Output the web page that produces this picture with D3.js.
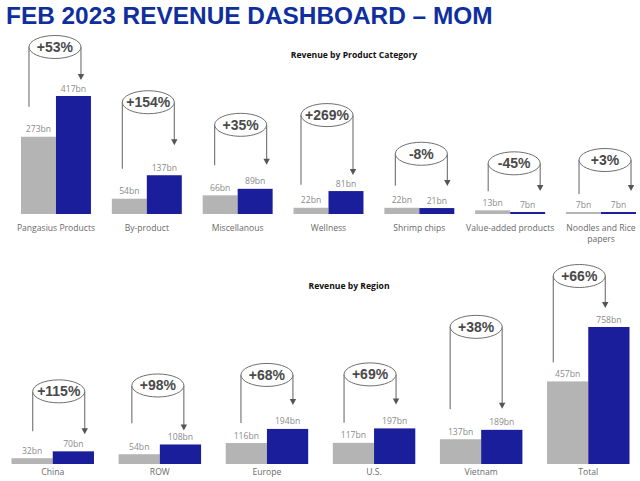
<!DOCTYPE html>
<html>
<head>
<meta charset="utf-8">
<script src="https://cdn.jsdelivr.net/npm/d3@7"></script>
<style>
  html, body { margin: 0; padding: 0; background: #ffffff; }
  svg { display: block; }
</style>
</head>
<body>
<svg id="chart" width="640" height="481"></svg>
<script>
// ---------------- DATA ----------------
const productCategories = ["Pangasius Products", "By-product", "Miscellanous", "Wellness", "Shrimp chips", "Value-added products", "Noodles and Rice papers"];
const productJan = [273, 54, 66, 22, 22, 13, 7];
const productFeb = [417, 137, 89, 81, 21, 7, 7];
const productChange = ["+53%", "+154%", "+35%", "+269%", "-8%", "-45%", "+3%"];

const regionCategories = ["China", "ROW", "Europe", "U.S.", "Vietnam", "Total"];
const regionJan = [32, 54, 116, 117, 137, 457];
const regionFeb = [70, 108, 194, 197, 189, 758];
const regionChange = ["+115%", "+98%", "+68%", "+69%", "+38%", "+66%"];

const seriesKeys = ["jan", "feb"];

// ---------------- LAYOUT / STYLE ----------------
const colors = { jan: "#b4b4b4", feb: "#1a1e9a" };
const labelFont = "'Open Sans', 'Noto Sans', sans-serif";

const productLayout = {
  xRange: [21, 636], baseline: 214, topPx: 96,
  title: "Revenue by Product Category", titleX: 354, titleY: 58,
  catLabelY: 231,
  calloutDx: [-1, 1.5, 3, -1.5, 2, 4, 4],
  calloutDy: [49, 73, 64, 76, 54, 47, 52],
  leftGap: [22, 22, 22, 15, 14, 11, 10],
  arrowGap: [8, 22, 16, 8, 14, 13, 13]
};
const regionLayout = {
  xRange: [11.5, 629.5], baseline: 464, topPx: 327,
  title: "Revenue by Region", titleX: 349, titleY: 289,
  catLabelY: 475,
  calloutDx: [6, -2, 0, -4, -5, -9],
  calloutDy: [60, 59, 54, 54, 103, 51],
  leftGap: [19, 23, 12, 12, 22, 11],
  arrowGap: [9, 6, 16, 16, 13, 11]
};

const svg = d3.select("#chart");

// Title
svg.append("text")
  .attr("x", 6).attr("y", 24)
  .attr("font-family", "'Liberation Sans', Arial, sans-serif")
  .attr("font-weight", "bold")
  .attr("font-size", 24.4)
  .attr("fill", "#0f2f9f")
  .text("FEB 2023 REVENUE DASHBOARD \u2013 MOM");

function drawPanel(cats, jan, feb, change, L) {
  const rows = cats.map((c, i) => ({ cat: c, jan: jan[i], feb: feb[i], change: change[i], i }));
  const x0 = d3.scaleBand().domain(cats).range(L.xRange).paddingInner(0.23).paddingOuter(0);
  const x1 = d3.scaleBand().domain(seriesKeys).range([0, x0.bandwidth()]).padding(0);
  const y = d3.scaleLinear().domain([0, d3.max(feb.concat(jan))]).range([L.baseline, L.topPx]);

  const g = svg.append("g");

  // Section title
  g.append("text")
    .attr("x", L.titleX).attr("y", L.titleY)
    .attr("text-anchor", "middle")
    .attr("font-family", labelFont)
    .attr("font-weight", "bold")
    .attr("font-size", 8.6)
    .attr("fill", "#111")
    .text(L.title);

  const groups = g.selectAll("g.grp").data(rows).join("g")
    .attr("class", "grp")
    .attr("transform", d => `translate(${x0(d.cat)},0)`);

  // Bars
  groups.selectAll("rect").data(d => seriesKeys.map(k => ({ k, v: d[k] }))).join("rect")
    .attr("x", d => x1(d.k))
    .attr("width", x1.bandwidth())
    .attr("y", d => y(d.v))
    .attr("height", d => y(0) - y(d.v))
    .attr("fill", d => colors[d.k]);

  // Value labels
  groups.selectAll("text.val").data(d => seriesKeys.map(k => ({ k, v: d[k] }))).join("text")
    .attr("class", "val")
    .attr("x", d => x1(d.k) + x1.bandwidth() / 2)
    .attr("y", d => y(d.v) - 4.5)
    .attr("text-anchor", "middle")
    .attr("font-family", labelFont)
    .attr("font-size", 8.6)
    .attr("fill", "#8a8a8a")
    .text(d => d.v + "bn");

  // Category labels (wrapped when wider than a step)
  const step = x0.step();
  groups.append("text")
    .attr("class", "cat")
    .attr("x", x0.bandwidth() / 2)
    .attr("y", L.catLabelY)
    .attr("text-anchor", "middle")
    .attr("font-family", labelFont)
    .attr("font-size", 8.6)
    .attr("fill", "#6a6a6a")
    .each(function (d) {
      const t = d3.select(this);
      t.text(d.cat);
      if (this.getComputedTextLength() > step) {
        const words = d.cat.split(" ");
        t.text(null);
        let line = [];
        let tspan = t.append("tspan").attr("x", x0.bandwidth() / 2).attr("dy", 0);
        const lines = [];
        words.forEach(w => {
          line.push(w);
          tspan.text(line.join(" "));
          if (tspan.node().getComputedTextLength() > step * 0.9 && line.length > 1) {
            line.pop();
            tspan.text(line.join(" "));
            line = [w];
            tspan = t.append("tspan").attr("x", x0.bandwidth() / 2).attr("dy", 11).text(w);
          }
        });
      }
    });

  // Callouts
  const rx = 26, ry = 11.5;
  groups.each(function (d) {
    const grp = d3.select(this);
    const cx = x0.bandwidth() / 2 + L.calloutDx[d.i];
    const topMost = Math.min(y(d.jan), y(d.feb));
    const cy = topMost - L.calloutDy[d.i];
    const leftEnd = y(d.jan) - 8 - L.leftGap[d.i];
    const tip = y(d.feb) - 8 - L.arrowGap[d.i];
    const stroke = "#6f6f6f";
    grp.append("line")
      .attr("x1", cx - rx).attr("x2", cx - rx)
      .attr("y1", cy).attr("y2", leftEnd)
      .attr("stroke", stroke).attr("stroke-width", 1.1);
    grp.append("line")
      .attr("x1", cx + rx).attr("x2", cx + rx)
      .attr("y1", cy).attr("y2", tip - 5)
      .attr("stroke", stroke).attr("stroke-width", 1.1);
    grp.append("path")
      .attr("d", `M${cx + rx - 3.2},${tip - 6} L${cx + rx + 3.2},${tip - 6} L${cx + rx},${tip} Z`)
      .attr("fill", "#555");
    grp.append("ellipse")
      .attr("cx", cx).attr("cy", cy)
      .attr("rx", rx).attr("ry", ry)
      .attr("fill", "#ffffff")
      .attr("stroke", stroke).attr("stroke-width", 1);
    grp.append("text")
      .attr("x", cx).attr("y", cy + 5)
      .attr("text-anchor", "middle")
      .attr("font-family", "'Liberation Sans', Arial, sans-serif")
      .attr("font-weight", "bold")
      .attr("font-size", 14)
      .attr("fill", "#4a4a4a")
      .text(d.change);
  });
}

drawPanel(productCategories, productJan, productFeb, productChange, productLayout);
drawPanel(regionCategories, regionJan, regionFeb, regionChange, regionLayout);
</script>
</body>
</html>
